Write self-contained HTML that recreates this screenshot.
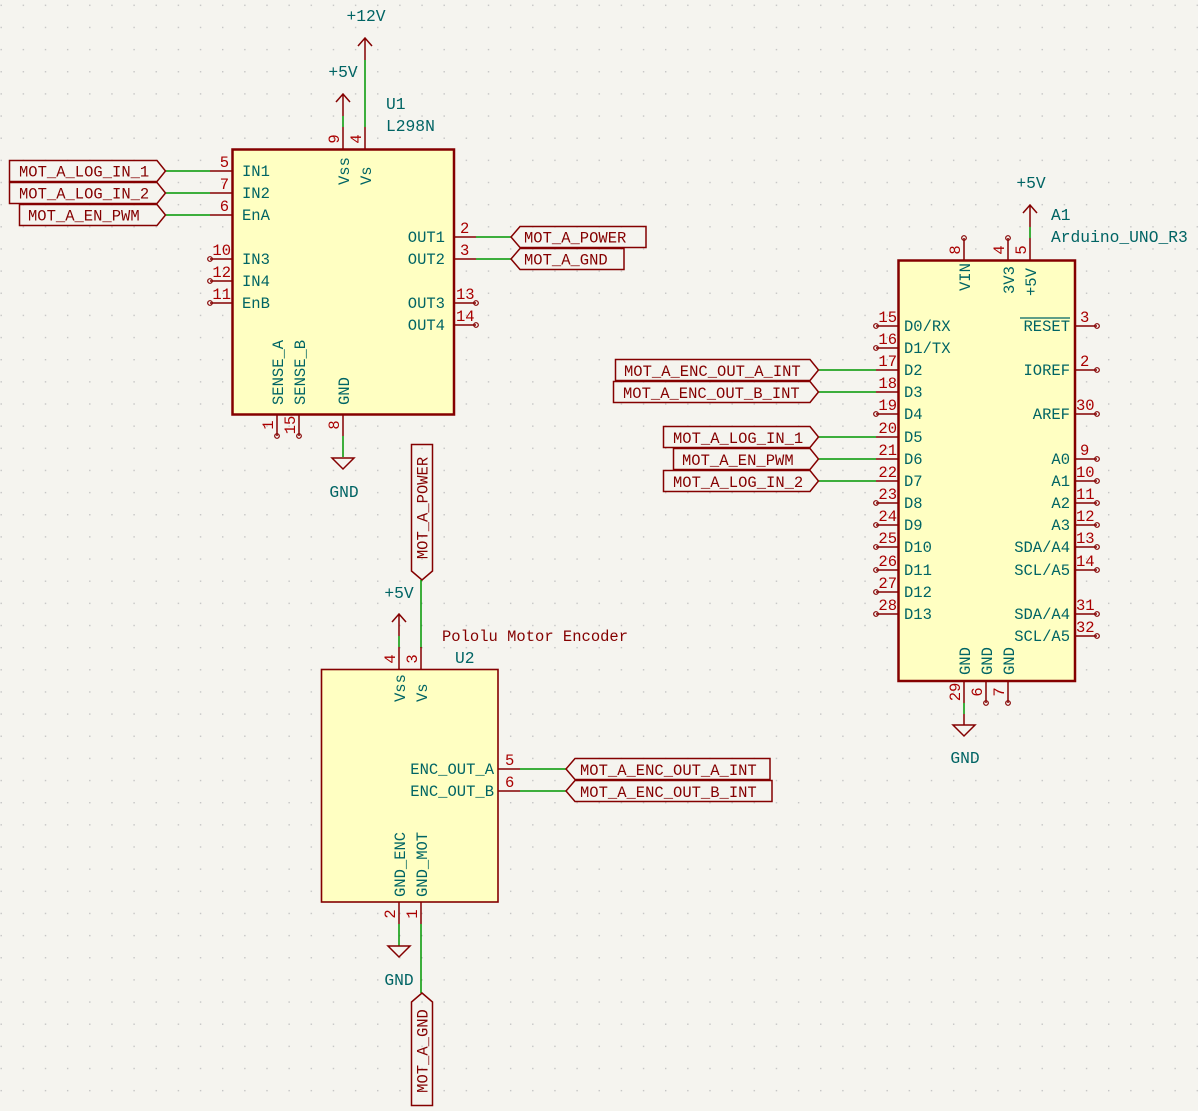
<!DOCTYPE html>
<html><head><meta charset="utf-8"><style>
html,body{margin:0;padding:0;background:#f5f4ef;}
svg{display:block;}
text{font-family:"Liberation Mono","DejaVu Sans Mono",monospace;font-size:15.5px;}
.n{fill:#006464;font-size:16.3px;}
.r{fill:#a90000;}
.l{fill:#840000;}
.box{fill:#ffffc2;stroke:#840000;stroke-width:2.5;}
.p{stroke:#840000;stroke-width:1.5;fill:none;}
.w{stroke:#009600;stroke-width:1.5;fill:none;}
.lab{fill:none;stroke:#840000;stroke-width:1.5;}
.nc{fill:none;stroke:#840000;stroke-width:1.2;}
</style></head><body>
<svg width="1198" height="1111" viewBox="0 0 1198 1111" xmlns="http://www.w3.org/2000/svg">
<defs><pattern id="g" x="0.5" y="4.6" width="22.15" height="22.15" patternUnits="userSpaceOnUse"><rect x="0" y="0" width="1.4" height="1.4" fill="#c4c4c4"/></pattern></defs>
<rect width="1198" height="1111" fill="#f5f4ef"/>
<rect width="1198" height="1111" fill="url(#g)"/>

<!-- ===== U1 L298N ===== -->
<rect class="box" x="232.5" y="149.5" width="221.5" height="265"/>
<path class="p" d="M210 171H232M210 193H232M210 215H232M210 259H232M210 281H232M210 303H232"/>
<circle class="nc" cx="210" cy="259" r="2.3"/><circle class="nc" cx="210" cy="281" r="2.3"/><circle class="nc" cx="210" cy="303" r="2.3"/>
<g class="r" text-anchor="end"><text x="229" y="167">5</text><text x="229" y="189">7</text><text x="229" y="211">6</text><text x="231" y="255">10</text><text x="231" y="277">12</text><text x="231" y="299">11</text></g>
<g class="n"><text x="242" y="176">IN1</text><text x="242" y="198">IN2</text><text x="242" y="220">EnA</text><text x="242" y="264">IN3</text><text x="242" y="286">IN4</text><text x="242" y="308">EnB</text></g>
<path class="p" d="M454 237H476M454 259H476M454 303H476M454 325H476"/>
<circle class="nc" cx="476" cy="303" r="2.3"/><circle class="nc" cx="476" cy="325" r="2.3"/>
<g class="r"><text x="460" y="233">2</text><text x="460" y="255">3</text><text x="456" y="299">13</text><text x="456" y="321">14</text></g>
<g class="n" text-anchor="end"><text x="445" y="242">OUT1</text><text x="445" y="264">OUT2</text><text x="445" y="308">OUT3</text><text x="445" y="330">OUT4</text></g>
<path class="p" d="M343 127V149M365 127V149"/>
<g class="r"><text transform="translate(339,139) rotate(-90)" text-anchor="middle">9</text><text transform="translate(361,139) rotate(-90)" text-anchor="middle">4</text></g>
<g class="n"><text transform="translate(349,185) rotate(-90)">Vss</text><text transform="translate(371,185) rotate(-90)">Vs</text></g>
<path class="p" d="M277 414V436M299 414V436M343 414V436"/>
<circle class="nc" cx="277" cy="436" r="2.3"/><circle class="nc" cx="299" cy="436" r="2.3"/>
<g class="r"><text transform="translate(273,425) rotate(-90)" text-anchor="middle">1</text><text transform="translate(295,425) rotate(-90)" text-anchor="middle">15</text><text transform="translate(339,425) rotate(-90)" text-anchor="middle">8</text></g>
<g class="n"><text transform="translate(283,405) rotate(-90)">SENSE_A</text><text transform="translate(305,405) rotate(-90)">SENSE_B</text><text transform="translate(349,405) rotate(-90)">GND</text></g>
<text class="n" x="386" y="109">U1</text><text class="n" x="386" y="131">L298N</text>
<path class="w" d="M343 116V127M365 60V127"/>
<path class="p" d="M343 94V116M336 102L343 94L350 102M365 38V60M358 46L365 38L372 46"/>
<text class="n" x="343" y="77" text-anchor="middle">+5V</text>
<text class="n" x="366" y="21" text-anchor="middle">+12V</text>
<path class="w" d="M343 436V457"/>
<path class="p" d="M332 458H354L343 469Z"/>
<text class="n" x="344" y="497" text-anchor="middle">GND</text>
<path class="w" d="M166 171H210M166 193H210M166 215H210"/>
<path class="lab" d="M9.5 160.5H157L165.5 171L157 181.5H9.5Z"/>
<path class="lab" d="M9.5 182.5H157L165.5 193L157 203.5H9.5Z"/>
<path class="lab" d="M19.5 204.5H157L165.5 215L157 225.5H19.5Z"/>
<g class="l"><text x="19" y="176.5">MOT_A_LOG_IN_1</text><text x="19" y="198.5">MOT_A_LOG_IN_2</text><text x="28" y="220.5">MOT_A_EN_PWM</text></g>
<path class="w" d="M476 237H511M476 259H511"/>
<path class="lab" d="M511 237L520 226.5H646V247.5H520Z"/>
<path class="lab" d="M511 259L520 248.5H624V269.5H520Z"/>
<g class="l"><text x="524" y="242.5">MOT_A_POWER</text><text x="524" y="264.5">MOT_A_GND</text></g>

<!-- ===== U2 encoder ===== -->
<path class="lab" d="M411.5 444.5H432.5V571L422 580L411.5 571Z"/>
<text class="l" transform="translate(427.5,508) rotate(-90)" text-anchor="middle">MOT_A_POWER</text>
<path class="w" d="M421 580V648"/>
<rect class="box" x="321.5" y="669.5" width="176.5" height="232.5" style="stroke-width:1.6"/>
<path class="p" d="M399 647V669M421 647V669"/>
<path class="w" d="M399 636V647"/>
<path class="p" d="M399 614V636M392 622L399 614L406 622"/>
<text class="n" x="399" y="598" text-anchor="middle">+5V</text>
<g class="r"><text transform="translate(395,659) rotate(-90)" text-anchor="middle">4</text><text transform="translate(417,659) rotate(-90)" text-anchor="middle">3</text></g>
<g class="n"><text transform="translate(405,702) rotate(-90)">Vss</text><text transform="translate(427,702) rotate(-90)">Vs</text></g>
<text class="l" x="442" y="641">Pololu Motor Encoder</text>
<text class="n" x="455" y="663">U2</text>
<path class="p" d="M498 769H520M498 791H520"/>
<path class="w" d="M520 769H566M520 791H566"/>
<g class="r"><text x="505" y="765">5</text><text x="505" y="787">6</text></g>
<g class="n" text-anchor="end"><text x="494" y="774">ENC_OUT_A</text><text x="494" y="796">ENC_OUT_B</text></g>
<path class="lab" d="M566 769L575 758.5H770V779.5H575Z"/>
<path class="lab" d="M566 791L575 780.5H772V801.5H575Z"/>
<g class="l"><text x="580" y="775">MOT_A_ENC_OUT_A_INT</text><text x="580" y="797">MOT_A_ENC_OUT_B_INT</text></g>
<path class="p" d="M399 902V924M421 902V924"/>
<g class="r"><text transform="translate(395,914) rotate(-90)" text-anchor="middle">2</text><text transform="translate(417,914) rotate(-90)" text-anchor="middle">1</text></g>
<g class="n"><text transform="translate(405,897) rotate(-90)">GND_ENC</text><text transform="translate(427,897) rotate(-90)">GND_MOT</text></g>
<path class="w" d="M399 924V946M421 924V993"/>
<path class="p" d="M388 946H410L399 957Z"/>
<text class="n" x="399" y="985" text-anchor="middle">GND</text>
<path class="lab" d="M422 993L432.5 1002V1105.5H411.5V1002Z"/>
<text class="l" transform="translate(427.5,1051) rotate(-90)" text-anchor="middle">MOT_A_GND</text>

<!-- ===== A1 Arduino ===== -->
<rect class="box" x="898.5" y="260.5" width="176.5" height="420.5"/>
<path class="p" d="M964 238V260M1008 238V260M1030 238V260"/>
<circle class="nc" cx="964" cy="238" r="2.3"/><circle class="nc" cx="1008" cy="238" r="2.3"/>
<g class="r"><text transform="translate(960,250) rotate(-90)" text-anchor="middle">8</text><text transform="translate(1004,250) rotate(-90)" text-anchor="middle">4</text><text transform="translate(1026,250) rotate(-90)" text-anchor="middle">5</text></g>
<g class="n"><text transform="translate(970,291) rotate(-90)">VIN</text><text transform="translate(1014,294) rotate(-90)">3V3</text><text transform="translate(1036,296) rotate(-90)">+5V</text></g>
<path class="w" d="M1030 227V238"/>
<path class="p" d="M1030 205V227M1023 213L1030 205L1037 213"/>
<text class="n" x="1031" y="188" text-anchor="middle">+5V</text>
<text class="n" x="1051" y="220">A1</text><text class="n" x="1051" y="242">Arduino_UNO_R3</text>
<path class="p" d="M876 326H898M876 348H898M876 370H898M876 392H898M876 414H898M876 437H898M876 459H898M876 481H898M876 503H898M876 525H898M876 547H898M876 570H898M876 592H898M876 614H898"/>
<g><circle class="nc" cx="876" cy="326" r="2.3"/><circle class="nc" cx="876" cy="348" r="2.3"/><circle class="nc" cx="876" cy="414" r="2.3"/><circle class="nc" cx="876" cy="503" r="2.3"/><circle class="nc" cx="876" cy="525" r="2.3"/><circle class="nc" cx="876" cy="547" r="2.3"/><circle class="nc" cx="876" cy="570" r="2.3"/><circle class="nc" cx="876" cy="592" r="2.3"/><circle class="nc" cx="876" cy="614" r="2.3"/></g>
<g class="r" text-anchor="end"><text x="897" y="322">15</text><text x="897" y="344">16</text><text x="897" y="366">17</text><text x="897" y="388">18</text><text x="897" y="410">19</text><text x="897" y="433">20</text><text x="897" y="455">21</text><text x="897" y="477">22</text><text x="897" y="499">23</text><text x="897" y="521">24</text><text x="897" y="543">25</text><text x="897" y="566">26</text><text x="897" y="588">27</text><text x="897" y="610">28</text></g>
<g class="n"><text x="904" y="331">D0/RX</text><text x="904" y="353">D1/TX</text><text x="904" y="375">D2</text><text x="904" y="397">D3</text><text x="904" y="419">D4</text><text x="904" y="442">D5</text><text x="904" y="464">D6</text><text x="904" y="486">D7</text><text x="904" y="508">D8</text><text x="904" y="530">D9</text><text x="904" y="552">D10</text><text x="904" y="575">D11</text><text x="904" y="597">D12</text><text x="904" y="619">D13</text></g>
<path class="p" d="M1075 326H1097M1075 370H1097M1075 414H1097M1075 459H1097M1075 481H1097M1075 503H1097M1075 525H1097M1075 547H1097M1075 570H1097M1075 614H1097M1075 636H1097"/>
<g><circle class="nc" cx="1097" cy="326" r="2.3"/><circle class="nc" cx="1097" cy="370" r="2.3"/><circle class="nc" cx="1097" cy="414" r="2.3"/><circle class="nc" cx="1097" cy="459" r="2.3"/><circle class="nc" cx="1097" cy="481" r="2.3"/><circle class="nc" cx="1097" cy="503" r="2.3"/><circle class="nc" cx="1097" cy="525" r="2.3"/><circle class="nc" cx="1097" cy="547" r="2.3"/><circle class="nc" cx="1097" cy="570" r="2.3"/><circle class="nc" cx="1097" cy="614" r="2.3"/><circle class="nc" cx="1097" cy="636" r="2.3"/></g>
<g class="r"><text x="1080" y="322">3</text><text x="1080" y="366">2</text><text x="1076" y="410">30</text><text x="1080" y="455">9</text><text x="1076" y="477">10</text><text x="1076" y="499">11</text><text x="1076" y="521">12</text><text x="1076" y="543">13</text><text x="1076" y="566">14</text><text x="1076" y="610">31</text><text x="1076" y="632">32</text></g>
<g class="n" text-anchor="end"><text x="1070" y="331">RESET</text><text x="1070" y="375">IOREF</text><text x="1070" y="419">AREF</text><text x="1070" y="464">A0</text><text x="1070" y="486">A1</text><text x="1070" y="508">A2</text><text x="1070" y="530">A3</text><text x="1070" y="552">SDA/A4</text><text x="1070" y="575">SCL/A5</text><text x="1070" y="619">SDA/A4</text><text x="1070" y="641">SCL/A5</text></g>
<path d="M1020 318H1070" stroke="#006464" stroke-width="1.2"/>
<path class="p" d="M964 681V703M986 681V703M1008 681V703"/>
<circle class="nc" cx="986" cy="703" r="2.3"/><circle class="nc" cx="1008" cy="703" r="2.3"/>
<g class="r"><text transform="translate(960,692) rotate(-90)" text-anchor="middle">29</text><text transform="translate(982,692) rotate(-90)" text-anchor="middle">6</text><text transform="translate(1004,692) rotate(-90)" text-anchor="middle">7</text></g>
<g class="n"><text transform="translate(970,675) rotate(-90)">GND</text><text transform="translate(992,675) rotate(-90)">GND</text><text transform="translate(1014,675) rotate(-90)">GND</text></g>
<path class="w" d="M964 703V714"/>
<path class="p" d="M964 714V725M953 725H975L964 736Z"/>
<text class="n" x="965" y="763" text-anchor="middle">GND</text>
<path class="w" d="M819 370H876M819 392H876M819 437H876M819 459H876M819 481H876"/>
<path class="lab" d="M615.5 359.5H810L818.5 370L810 380.5H615.5Z"/>
<path class="lab" d="M613.5 381.5H810L818.5 392L810 402.5H613.5Z"/>
<path class="lab" d="M663.5 426.5H810L818.5 437L810 447.5H663.5Z"/>
<path class="lab" d="M673.5 448.5H810L818.5 459L810 469.5H673.5Z"/>
<path class="lab" d="M663.5 470.5H810L818.5 481L810 491.5H663.5Z"/>
<g class="l"><text x="624" y="376">MOT_A_ENC_OUT_A_INT</text><text x="623" y="398">MOT_A_ENC_OUT_B_INT</text><text x="673" y="443">MOT_A_LOG_IN_1</text><text x="682" y="465">MOT_A_EN_PWM</text><text x="673" y="487">MOT_A_LOG_IN_2</text></g>
</svg>
</body></html>
